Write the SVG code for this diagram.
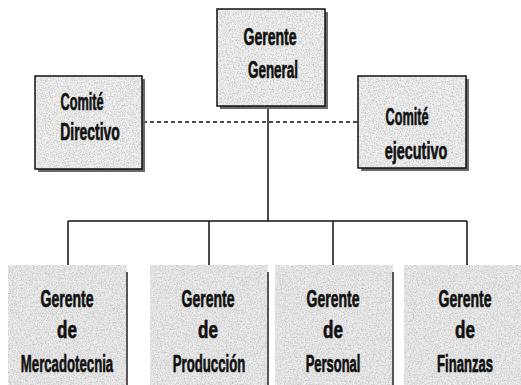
<svg xmlns="http://www.w3.org/2000/svg" width="521" height="385" viewBox="0 0 521 385">
  <defs>
    <filter id="tex" x="0" y="0" width="1" height="1">
      <feTurbulence type="fractalNoise" baseFrequency="0.75" numOctaves="2" seed="3" result="n"/>
      <feColorMatrix in="n" type="matrix" values="0 0 0 0 0  0 0 0 0 0  0 0 0 0 0  0 0 0 -2.2 1.45" result="a"/>
      <feFlood flood-color="#c4c4c4" result="c"/>
      <feComposite in="c" in2="a" operator="in" result="d"/>
      <feMerge result="m"><feMergeNode in="SourceGraphic"/><feMergeNode in="d"/></feMerge>
      <feComposite in="m" in2="SourceGraphic" operator="in"/>
    </filter>
  </defs>
  <style>
    .box { fill: #f5f5f5; }
    .frame { fill: none; stroke: #111; stroke-width: 1.5; }
    .shadow { fill: #6a6a6a; }
    .bot { fill: #efefef; }
    .edge { stroke: #555; stroke-width: 2; }
    .t { font-family: "Liberation Sans", Arial, sans-serif; font-weight: bold; font-size: 24px; fill: #111; stroke: #111; stroke-width: 0.7; text-anchor: middle; }
    .ln { stroke: #111; stroke-width: 1.5; fill: none; }
    .dash { stroke: #111; stroke-width: 1.5; stroke-dasharray: 4 3; fill: none; }
  </style>
  <rect width="521" height="385" fill="#fff"/>
  <g id="connectors">
    <path class="ln" d="M268 107 V221 M68 221 H467 M68 221 V268 M209 221 V268 M333 221 V268 M467 221 V268"/>
    <path class="dash" d="M143 122 H358"/>
  </g>
  <g id="gerente-general">
    <rect class="shadow" x="220" y="12" width="108" height="97"/>
    <rect class="box" x="217" y="9" width="108" height="97" filter="url(#tex)"/>
    <rect class="frame" x="217" y="9" width="108" height="97"/>
    <text class="t" transform="translate(270,45) scale(0.584,1)">Gerente</text>
    <text class="t" transform="translate(273,78) scale(0.56,1)">General</text>
  </g>
  <g id="comite-directivo">
    <rect class="shadow" x="38" y="79" width="107" height="93"/>
    <rect class="box" x="35" y="76" width="107" height="93" filter="url(#tex)"/>
    <rect class="frame" x="35" y="76" width="107" height="93"/>
    <text class="t" transform="translate(82,110) scale(0.53,1)">Comité</text>
    <text class="t" transform="translate(90,140) scale(0.58,1)">Directivo</text>
  </g>
  <g id="comite-ejecutivo">
    <rect class="shadow" x="361" y="79" width="108" height="92"/>
    <rect class="box" x="358" y="76" width="108" height="92" filter="url(#tex)"/>
    <rect class="frame" x="358" y="76" width="108" height="92"/>
    <text class="t" transform="translate(407,125) scale(0.53,1)">Comité</text>
    <text class="t" transform="translate(416,159) scale(0.6,1)">ejecutivo</text>
  </g>
  <g id="gerente-mercadotecnia">
    <rect class="bot" x="8" y="265" width="119" height="120" filter="url(#tex)"/>
    <line class="edge" x1="127" y1="272" x2="127" y2="385"/>
    <text class="t" transform="translate(67,307) scale(0.584,1)">Gerente</text>
    <text class="t" transform="translate(67,338) scale(0.71,1)">de</text>
    <text class="t" transform="translate(67,372) scale(0.55,1)">Mercadotecnia</text>
  </g>
  <g id="gerente-produccion">
    <rect class="bot" x="150" y="265" width="118" height="120" filter="url(#tex)"/>
    <line class="edge" x1="268" y1="272" x2="268" y2="385"/>
    <text class="t" transform="translate(208,307) scale(0.584,1)">Gerente</text>
    <text class="t" transform="translate(208,338) scale(0.71,1)">de</text>
    <text class="t" transform="translate(209,372) scale(0.55,1)">Producción</text>
  </g>
  <g id="gerente-personal">
    <rect class="bot" x="275" y="265" width="118" height="120" filter="url(#tex)"/>
    <line class="edge" x1="393" y1="272" x2="393" y2="385"/>
    <text class="t" transform="translate(333,307) scale(0.584,1)">Gerente</text>
    <text class="t" transform="translate(333,338) scale(0.71,1)">de</text>
    <text class="t" transform="translate(333,372) scale(0.54,1)">Personal</text>
  </g>
  <g id="gerente-finanzas">
    <rect class="bot" x="404" y="265" width="117" height="120" filter="url(#tex)"/>
    <text class="t" transform="translate(465,307) scale(0.584,1)">Gerente</text>
    <text class="t" transform="translate(465,338) scale(0.71,1)">de</text>
    <text class="t" transform="translate(465,372) scale(0.545,1)">Finanzas</text>
  </g>
</svg>
